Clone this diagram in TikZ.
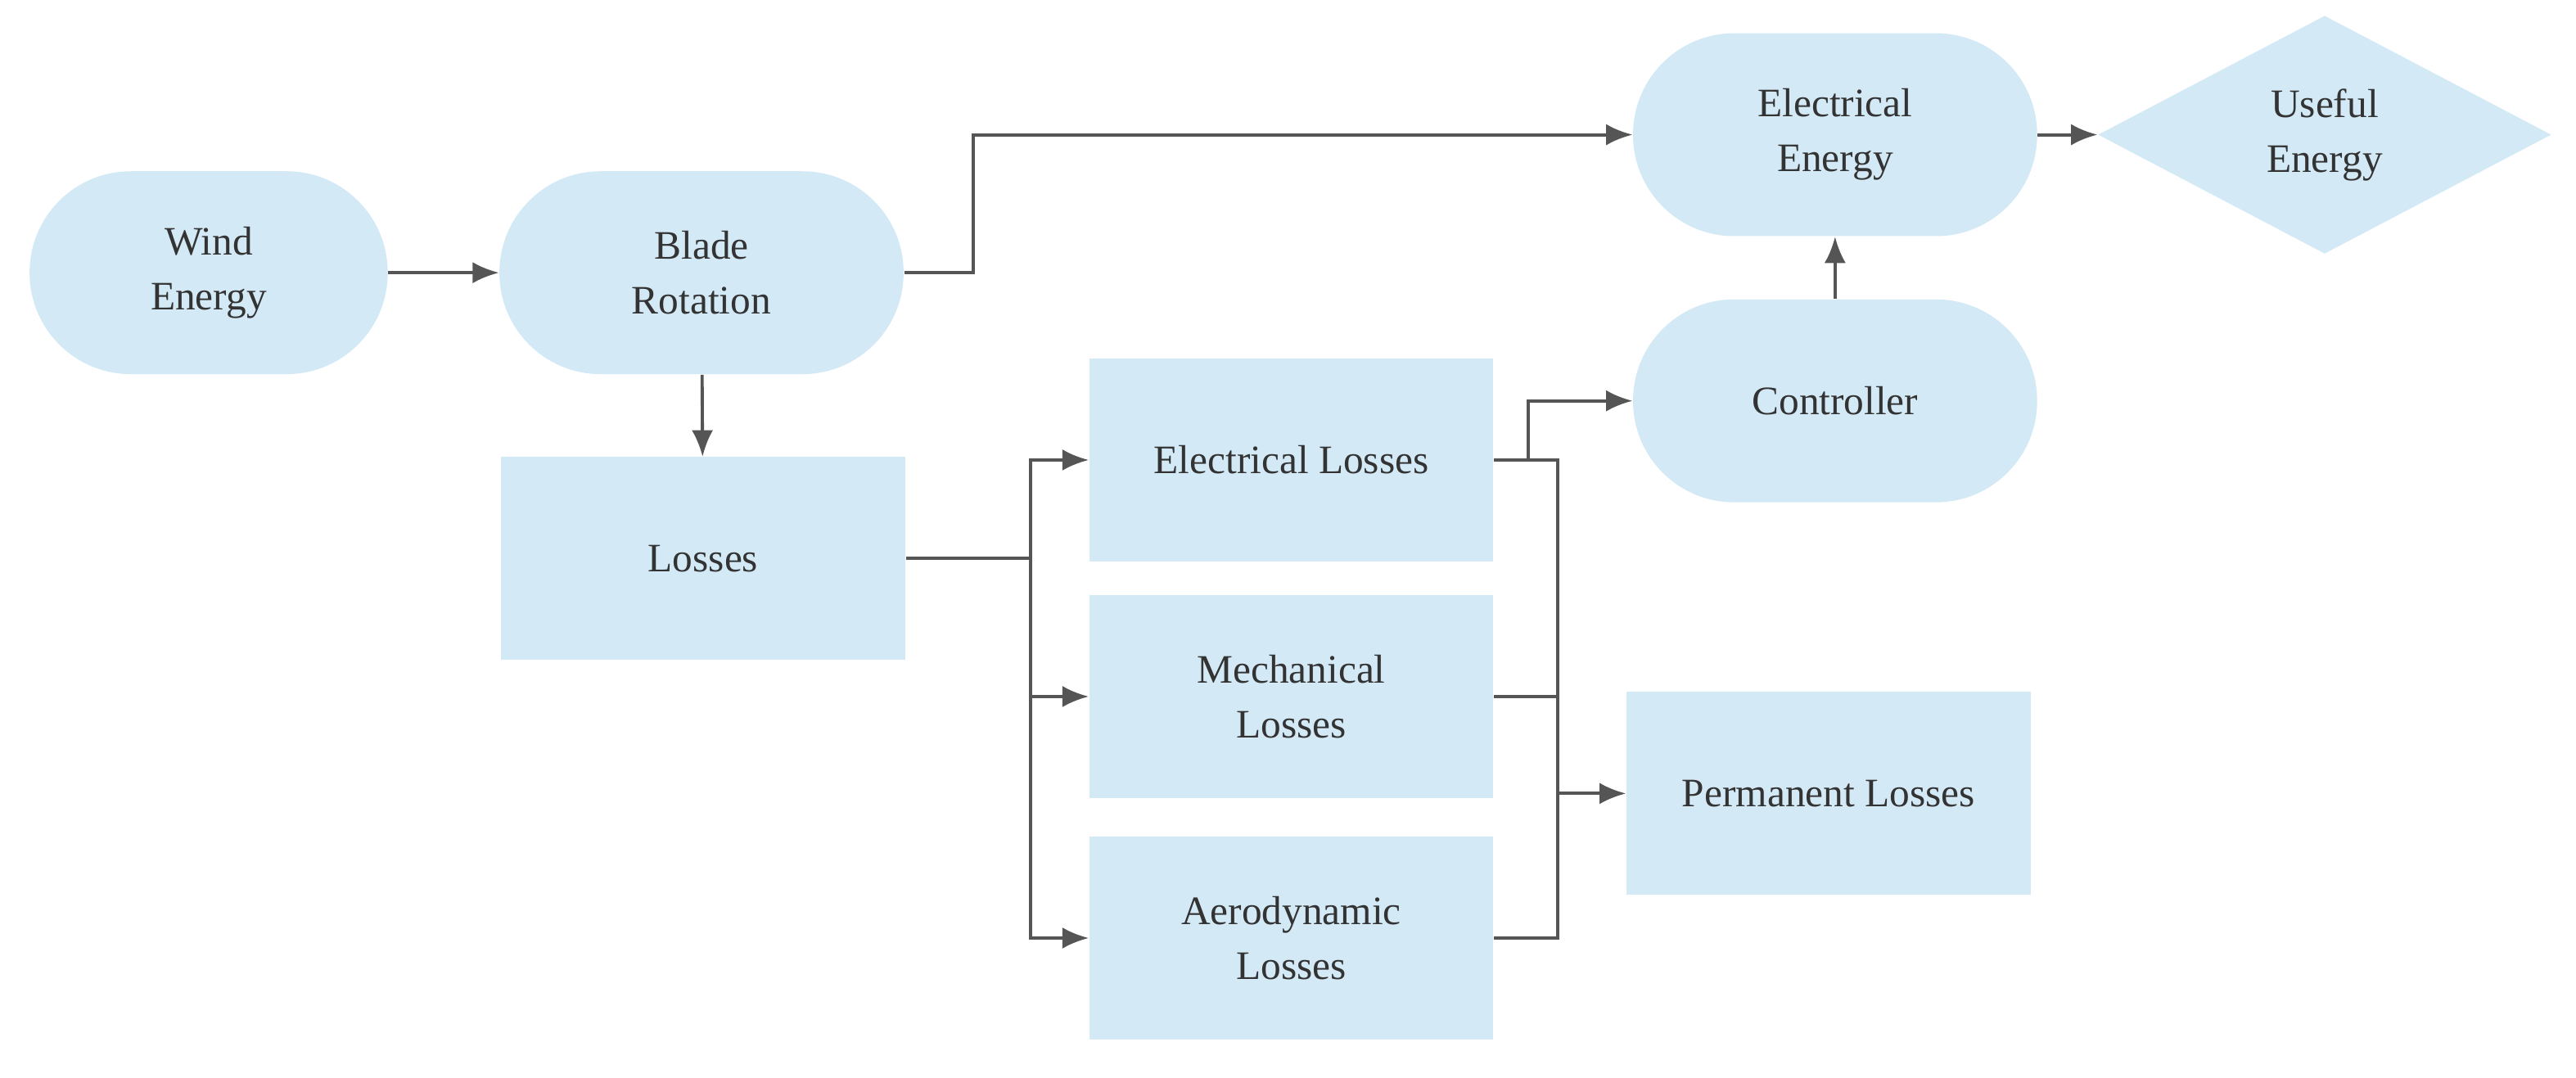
\documentclass[tikz,border=0pt]{standalone}
\usepackage{fontspec}
\setmainfont{Liberation Serif}
\usetikzlibrary{arrows.meta,shapes.geometric}

\tikzset{
  box/.style={fill=boxblue, draw=none, minimum width=4.92cm, minimum height=2.47cm,
    align=center, font=\fontsize{14}{19}\selectfont, text=textgray},
  pill/.style={box, rounded corners=1.23cm},
  flow/.style={draw=linegray, line width=1.1pt},
  arr/.style={flow, -{Latex[length=3.2mm,width=2.6mm]}}
}
\definecolor{boxblue}{HTML}{D3E9F6}
\definecolor{linegray}{HTML}{555555}
\definecolor{textgray}{HTML}{333333}

\begin{document}
\begin{tikzpicture}[x=0.02cm, y=-0.02cm]
    \useasboundingbox (0,0) rectangle (1568,656.2);

    % top row
    \node[pill, minimum width=4.36cm] (wind) at (127,166) {Wind\\Energy};
    \node[pill] (blade) at (427,166) {Blade\\Rotation};
    \node[pill] (elecE) at (1117,82) {Electrical\\Energy};
    \node[box, diamond, minimum width=5.52cm, minimum height=2.9cm, inner sep=0pt] (useful) at (1415,82) {Useful\\Energy};
    \node[pill] (ctrl) at (1117,244) {Controller};

    % losses
    \node[box] (loss) at (428,340) {Losses};
    \node[box] (eloss) at (786,280) {Electrical Losses};
    \node[box] (mloss) at (786,424) {Mechanical\\Losses};
    \node[box] (aloss) at (786,571) {Aerodynamic\\Losses};
    \node[box] (perm) at (1113,483) {Permanent Losses};

    \draw[arr] (wind) -- (blade);
    \draw[arr] (blade.east) -- ++(42,0) |- (elecE.west);
    \draw[arr] (elecE) -- (useful);
    \draw[arr] (ctrl) -- (elecE);
    \draw[arr] (blade) -- (loss);

    \draw[flow] (loss.east) -- ++(76,0) coordinate (br);
    \draw[arr] (br) |- (eloss.west);
    \draw[arr] (br) |- (mloss.west);
    \draw[arr] (br) |- (aloss.west);

    \draw[arr] (eloss.east) -- ++(21,0) |- (ctrl.west);
    \coordinate (pj) at (948,483);
    \draw[flow] (eloss.east) -| (pj);
    \draw[flow] (mloss.east) -| (pj);
    \draw[flow] (aloss.east) -| (pj);
    \draw[arr] (pj) -- (perm.west);
\end{tikzpicture}
\end{document}
